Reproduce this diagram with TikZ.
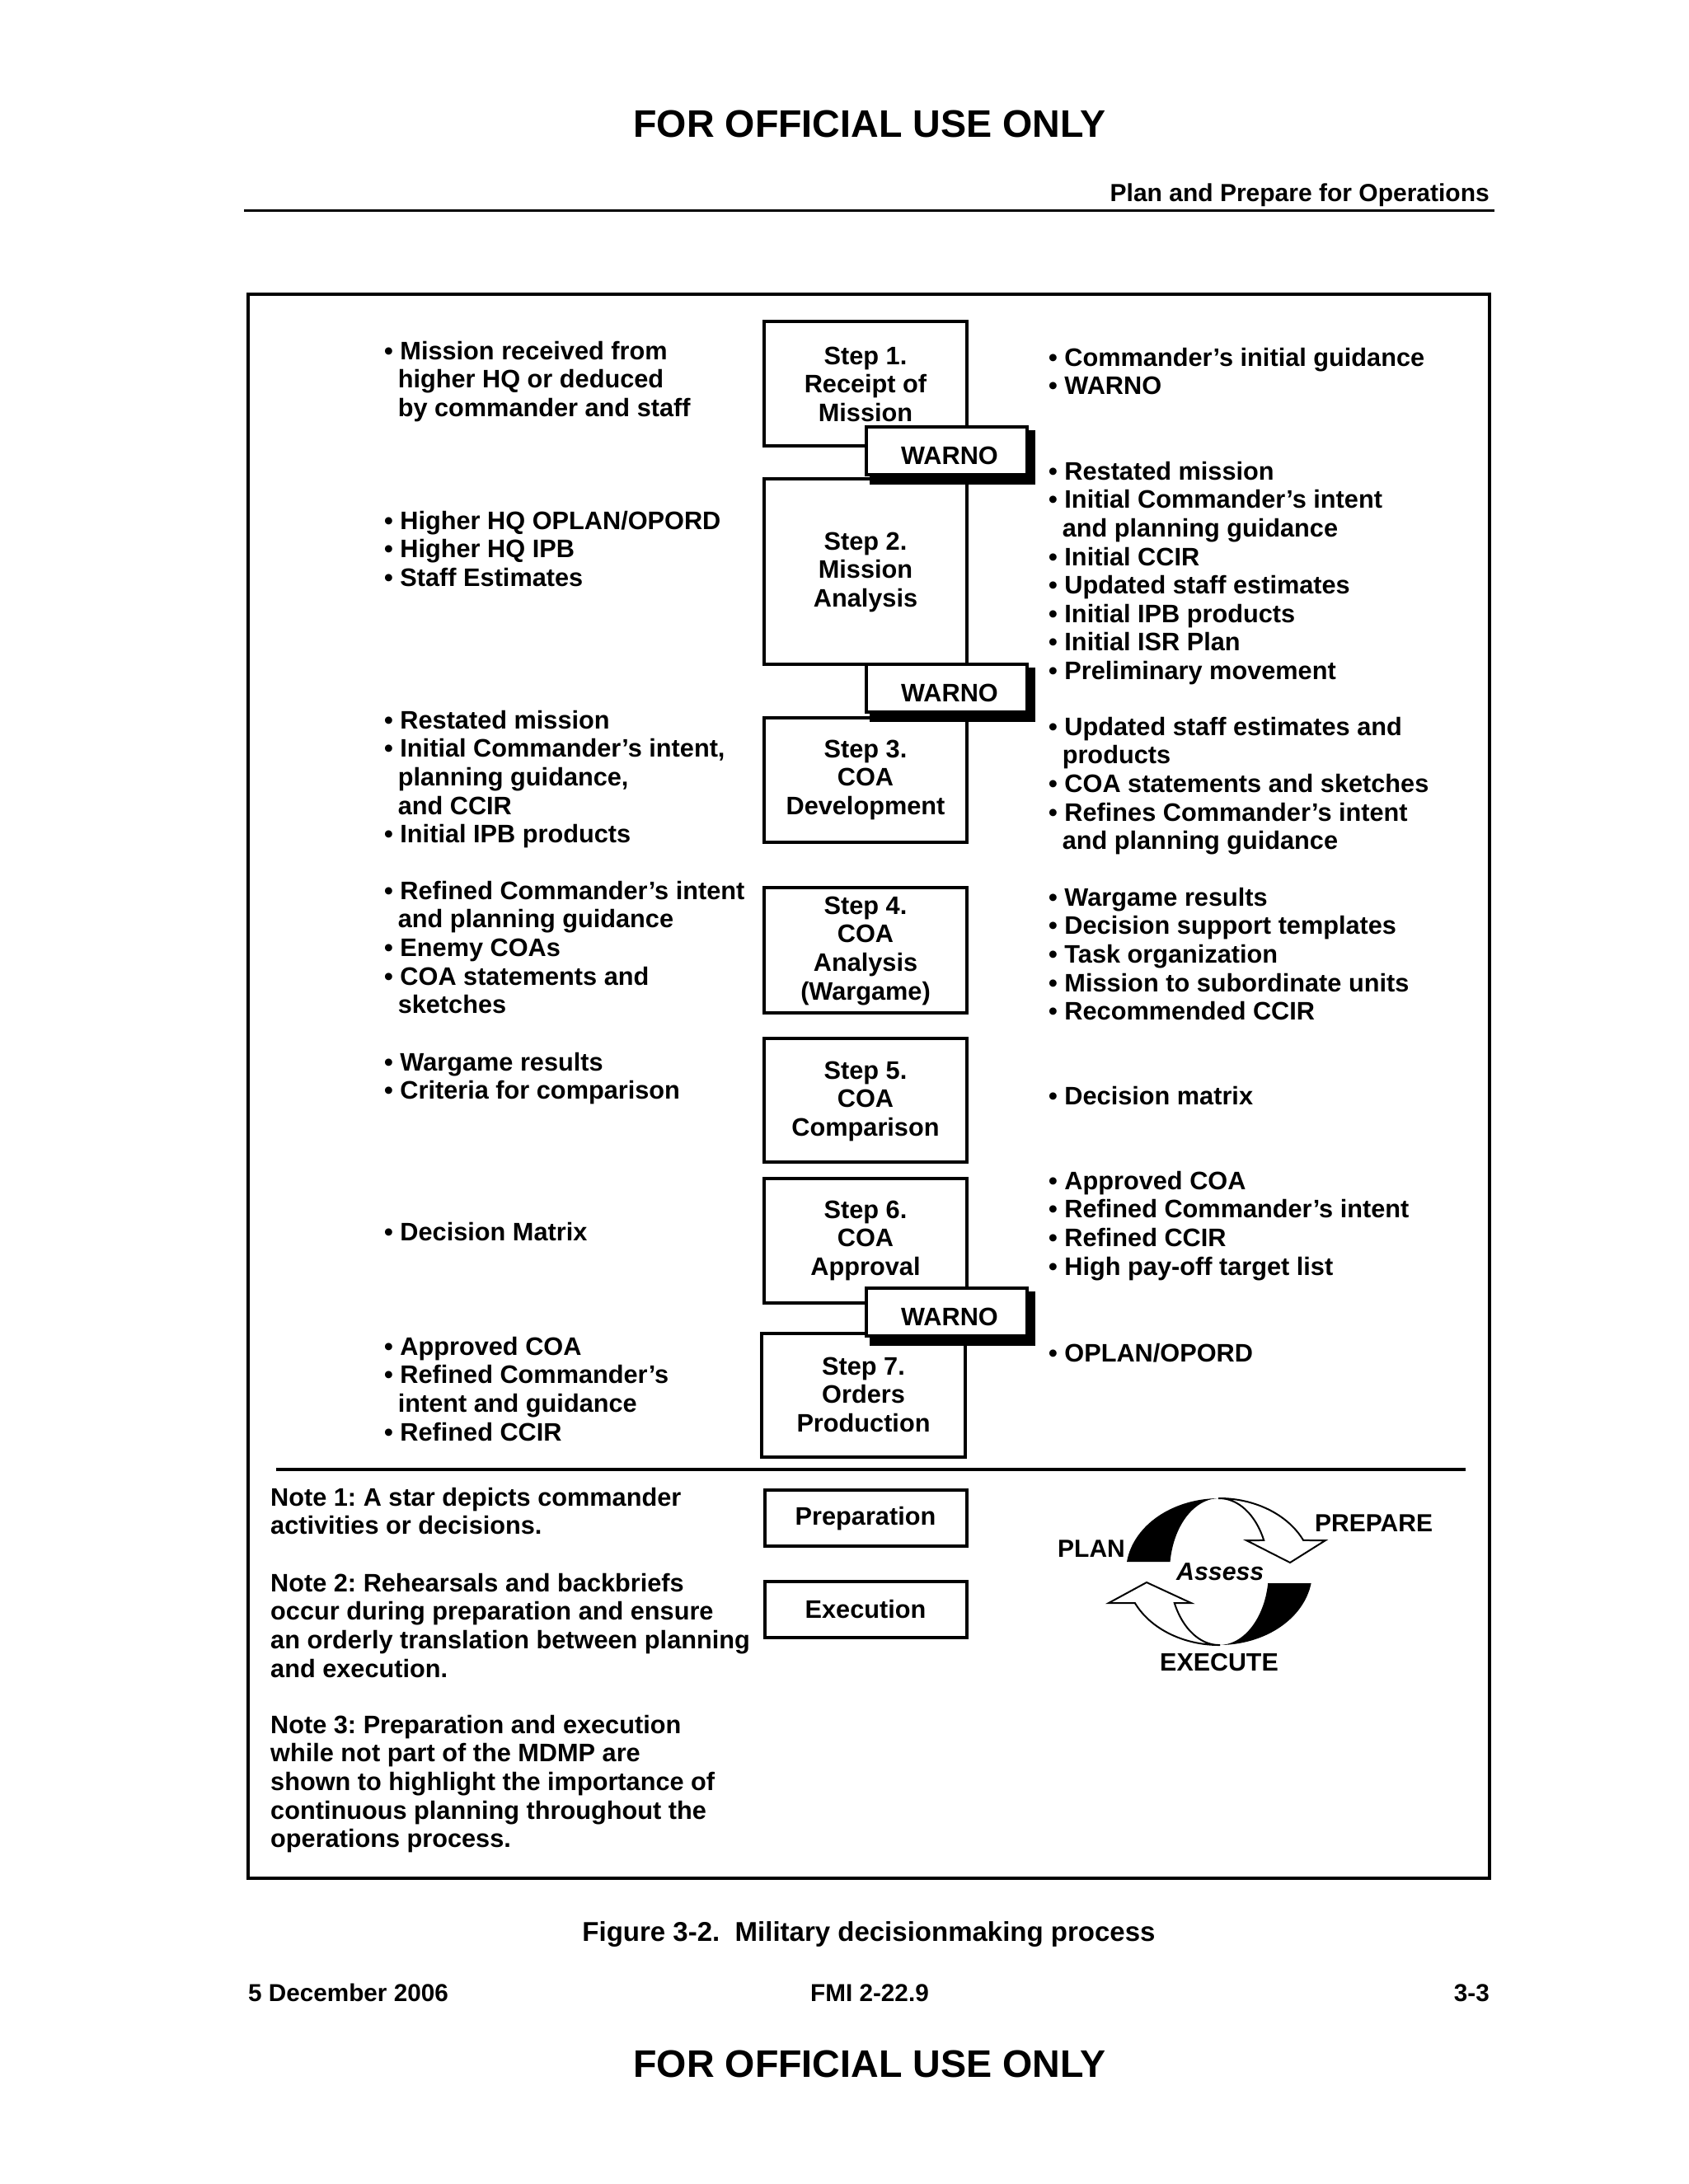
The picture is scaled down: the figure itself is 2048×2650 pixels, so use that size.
\documentclass[tikz,border=0pt]{standalone}
\usepackage{fontspec}
\setmainfont{Liberation Sans}
\frenchspacing
\newcommand{\mf}{\fontsize{30.7}{34.6}\selectfont\bfseries}
\newcommand{\fst}{\rule{0pt}{0.8em}}
\newcommand{\bu}{\rule{0pt}{0.8em}•\ }
\newcommand{\ci}{\rule{0pt}{0.8em}\hspace*{0.54em}}
\def\sk{24.56}
\begin{document}
\begin{tikzpicture}[x=1pt,y=-1pt,
  lst/.style={anchor=north west, inner sep=0pt, align=left, font=\mf},
  ctr/.style={anchor=north, inner sep=0pt, align=center, font=\mf},
  lbl/.style={anchor=base, inner sep=0pt, font=\mf},
  stepbox/.style={draw, line width=4pt, inner sep=0pt, minimum width=246pt},
  warnobox/.style={draw, fill=white, line width=4pt, inner sep=0pt, minimum width=195pt, minimum height=58pt},
  shadowbox/.style={fill=black, draw=none, inner sep=0pt, minimum width=201pt, minimum height=66pt},
  rulestyle/.style={line width=4pt},
  arrowshape/.style={fill=white, draw=black, line width=2pt, line join=miter}]

\fill[white] (0,0) rectangle (2048,2650);
\useasboundingbox (0,0) rectangle (2048,2650);

% header
\node[anchor=base, inner sep=0pt, font=\fontsize{46.6}{50}\selectfont\bfseries] (hdtop) at (1055,166) {FOR OFFICIAL USE ONLY};
\node[anchor=base east, inner sep=0pt, font=\fontsize{30}{34}\selectfont\bfseries] (hdsec) at (1807,244) {Plan and Prepare for Operations};
\coordinate (hrL) at (296,255);
\coordinate (hrR) at (1813,255);
\draw[line width=3pt] (hrL) -- (hrR);

% frame
\draw[line width=4.5pt] (301,357) rectangle (1807,2279);

% step boxes
\node[stepbox, minimum height=151pt] (s1) at (1050,465.5) {};
\node[stepbox, minimum height=225pt] (s2) at (1050,693.5) {};
\node[stepbox, minimum height=151pt] (s3) at (1050,946.5) {};
\node[stepbox, minimum height=152pt] (s4) at (1050,1153) {};
\node[stepbox, minimum height=150pt] (s5) at (1050,1335) {};
\node[stepbox, minimum height=151pt] (s6) at (1050,1505.5) {};
\node[stepbox, minimum width=247pt, minimum height=150pt] (s7) at (1047.5,1693) {};

% WARNO boxes with shadows
\node[shadowbox] (w1s) at (1155.5,555) {};
\node[warnobox] (w1) at (1148.5,547) {};
\node[shadowbox] (w2s) at (1155.5,843) {};
\node[warnobox] (w2) at (1148.5,835) {};
\node[shadowbox] (w3s) at (1155.5,1600) {};
\node[warnobox] (w3) at (1148.5,1592) {};
\node[lbl] (w1t) at (1152,563) {WARNO};
\node[lbl] (w2t) at (1152,851) {WARNO};
\node[lbl] (w3t) at (1152,1608) {WARNO};

% step texts
\node[ctr] (s1t) at (1050,442-\sk) {\fst Step 1.\\Receipt of\\Mission};
\node[ctr] (s2t) at (1050,667-\sk) {\fst Step 2.\\Mission\\Analysis};
\node[ctr] (s3t) at (1050,919-\sk) {\fst Step 3.\\COA\\Development};
\node[ctr] (s4t) at (1050,1109-\sk) {\fst Step 4.\\COA\\Analysis\\(Wargame)};
\node[ctr] (s5t) at (1050,1309-\sk) {\fst Step 5.\\COA\\Comparison};
\node[ctr] (s6t) at (1050,1478-\sk) {\fst Step 6.\\COA\\Approval};
\node[ctr] (s7t) at (1047.5,1668-\sk) {\fst Step 7.\\Orders\\Production};

% left column
\node[lst] (l1) at (466,436-\sk) {\bu Mission received from\\ \ci higher HQ or deduced\\ \ci by commander and staff};
\node[lst] (l2) at (466,642-\sk) {\bu Higher HQ OPLAN/OPORD\\ \bu Higher HQ IPB\\ \bu Staff Estimates};
\node[lst] (l3) at (466,884-\sk) {\bu Restated mission\\ \bu Initial Commander’s intent,\\ \ci planning guidance,\\ \ci and CCIR\\ \bu Initial IPB products};
\node[lst] (l4) at (466,1091-\sk) {\bu Refined Commander’s intent\\ \ci and planning guidance\\ \bu Enemy COAs\\ \bu COA statements and\\ \ci sketches};
\node[lst] (l5) at (466,1299-\sk) {\bu Wargame results\\ \bu Criteria for comparison};
\node[lst] (l6) at (466,1505-\sk) {\bu Decision Matrix};
\node[lst] (l7) at (466,1644-\sk) {\bu Approved COA\\ \bu Refined Commander’s\\ \ci intent and guidance\\ \bu Refined CCIR};

% right column
\node[lst] (r1) at (1272,444-\sk) {\bu Commander’s initial guidance\\ \bu WARNO};
\node[lst] (r2) at (1272,582-\sk) {\bu Restated mission\\ \bu Initial Commander’s intent\\ \ci and planning guidance\\ \bu Initial CCIR\\ \bu Updated staff estimates\\ \bu Initial IPB products\\ \bu Initial ISR Plan\\ \bu Preliminary movement};
\node[lst] (r3) at (1272,892-\sk) {\bu Updated staff estimates and\\ \ci products\\ \bu COA statements and sketches\\ \bu Refines Commander’s intent\\ \ci and planning guidance};
\node[lst] (r4) at (1272,1099-\sk) {\bu Wargame results\\ \bu Decision support templates\\ \bu Task organization\\ \bu Mission to subordinate units\\ \bu Recommended CCIR};
\node[lst] (r5) at (1272,1340-\sk) {\bu Decision matrix};
\node[lst] (r6) at (1272,1443-\sk) {\bu Approved COA\\ \bu Refined Commander’s intent\\ \bu Refined CCIR\\ \bu High pay-off target list};
\node[lst] (r7) at (1272,1652-\sk) {\bu OPLAN/OPORD};

% separator
\coordinate (sepL) at (335,1783);
\coordinate (sepR) at (1778,1783);
\draw[rulestyle] (sepL) -- (sepR);

% notes
\node[lst] (n1) at (328,1827-\sk) {\fst Note 1: A star depicts commander\\activities or decisions.};
\node[lst] (n2) at (328,1931-\sk) {\fst Note 2: Rehearsals and backbriefs\\occur during preparation and ensure\\an orderly translation between planning\\and execution.};
\node[lst] (n3) at (328,2103-\sk) {\fst Note 3: Preparation and execution\\while not part of the MDMP are\\shown to highlight the importance of\\continuous planning throughout the\\operations process.};

% preparation / execution
\node[stepbox, minimum width=245pt, minimum height=68pt] (prep) at (1050.5,1842) {};
\node[stepbox, minimum width=245pt, minimum height=68pt] (exec) at (1050.5,1953) {};
\node[lbl] (prept) at (1050,1850) {Preparation};
\node[lbl] (exect) at (1050,1963) {Execution};

% cycle
\fill[black] plot[domain=172.25:90, samples=50] ({1479+113*cos(\x)},{1907-89*sin(\x)})
  -- plot[domain=90:172.25, samples=50] ({1479+60*cos(\x)},{1907-89*sin(\x)}) -- cycle;
\fill[black] plot[domain=-9.05:-90, samples=50] ({1479+113*cos(\x)},{1907-89*sin(\x)})
  -- plot[domain=-90:-9.05, samples=50] ({1479+60*cos(\x)},{1907-89*sin(\x)}) -- cycle;
\filldraw[arrowshape] plot[domain=90:25.3, samples=50] ({1479+113*cos(\x)},{1907-89*sin(\x)})
  -- (1608,1869) -- (1565,1896) -- (1512,1869)
  -- plot[domain=25.3:90, samples=50] ({1479+60*cos(\x)},{1907-89*sin(\x)}) -- cycle;
\filldraw[arrowshape] plot[domain=270:205.3, samples=50] ({1479+113*cos(\x)},{1907-89*sin(\x)})
  -- (1345,1945) -- (1391,1920) -- (1445,1945)
  -- plot[domain=205.3:270, samples=50] ({1479+60*cos(\x)},{1907-89*sin(\x)}) -- cycle;
\node[anchor=base west, inner sep=0pt, font=\fontsize{30}{34}\selectfont\bfseries] (plan) at (1283,1889) {PLAN};
\node[anchor=base west, inner sep=0pt, font=\fontsize{30}{34}\selectfont\bfseries] (prepare) at (1595,1858) {PREPARE};
\node[anchor=base west, inner sep=0pt, font=\fontsize{30.3}{34}\selectfont\bfseries\itshape] (assess) at (1427,1917) {Assess};
\node[anchor=base, inner sep=0pt, font=\fontsize{30.4}{34}\selectfont\bfseries] (execute) at (1479,2027) {EXECUTE};

% caption and footer
\node[anchor=base, inner sep=0pt, font=\fontsize{33}{36}\selectfont\bfseries] (cap) at (1054,2355) {Figure 3-2.\ \ Military decisionmaking process};
\node[anchor=base west, inner sep=0pt, font=\fontsize{29.7}{34}\selectfont\bfseries] (fdate) at (301,2428) {5 December 2006};
\node[anchor=base, inner sep=0pt, font=\fontsize{29.7}{34}\selectfont\bfseries] (fmi) at (1055,2428) {FMI 2-22.9};
\node[anchor=base east, inner sep=0pt, font=\fontsize{29.7}{34}\selectfont\bfseries] (fpage) at (1807,2428) {3-3};
\node[anchor=base, inner sep=0pt, font=\fontsize{46.6}{50}\selectfont\bfseries] (hdbot) at (1055,2520) {FOR OFFICIAL USE ONLY};
\end{tikzpicture}
\end{document}
